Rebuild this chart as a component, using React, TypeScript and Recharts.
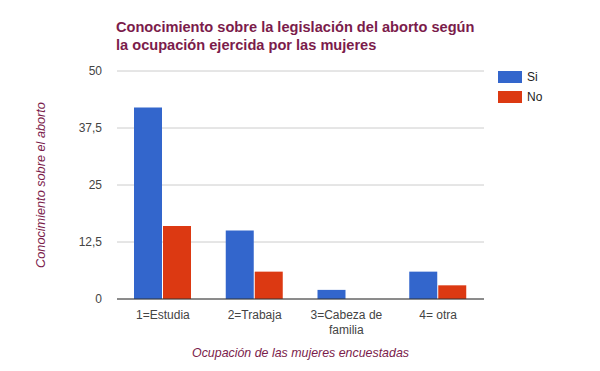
import React from 'react';
import { BarChart, Bar, XAxis, YAxis, CartesianGrid, Text } from 'recharts';

const categories = ['1=Estudia', '2=Trabaja', '3=Cabeza de familia', '4= otra'];
const siValues = [42, 15, 2, 6];
const noValues = [16, 6, 0, 3];
const yTicks = [0, 12.5, 25, 37.5, 50];
const seriesNames = ['Si', 'No'];
const colors = ['#3366cc', '#dc3912'];

const data = categories.map((c, i) => ({ cat: c, si: siValues[i], no: noValues[i] }));

const FONT = 'Arial, "Liberation Sans", sans-serif';
const MAROON = '#7b1c4b';

const XTick = (props: any) => {
  const { x, y, payload } = props;
  return (
    <Text x={x} y={y + 3} width={90} lineHeight={15} textAnchor="middle" verticalAnchor="start" fontSize={12} fill="#444" fontFamily={FONT}>
      {payload.value}
    </Text>
  );
};

export default function App() {
  return (
    <div style={{ position: 'absolute', left: 0, top: 0, width: 600, height: 371, background: '#fff', fontFamily: FONT }}>
      <BarChart
        width={600}
        height={371}
        data={data}
        margin={{ top: 71, right: 116, bottom: 42, left: 0 }}
        barGap={1}
        barSize={28}
      >
        <CartesianGrid vertical={false} stroke="#cccccc" />
        <XAxis
          dataKey="cat"
          height={30}
          tickLine={false}
          axisLine={{ stroke: '#333333' }}
          tick={<XTick />}
          interval={0}
        />
        <YAxis
          width={117}
          domain={[0, 50]}
          ticks={yTicks}
          tickLine={false}
          axisLine={false}
          tickMargin={9}
          tick={{ fontSize: 12, fill: '#444', fontFamily: FONT }}
          tickFormatter={(v: number) => String(v).replace('.', ',')}
        />
        <Bar dataKey="si" name={seriesNames[0]} fill={colors[0]} isAnimationActive={false} />
        <Bar dataKey="no" name={seriesNames[1]} fill={colors[1]} isAnimationActive={false} />
      </BarChart>
      <div style={{ position: 'absolute', left: 116, top: 18, fontSize: 14.6, fontWeight: 'bold', color: MAROON, lineHeight: '18px', whiteSpace: 'nowrap' }}>
        Conocimiento sobre la legislación del aborto según
        <br />
        la ocupación ejercida por las mujeres
      </div>
      <div style={{ position: 'absolute', left: 117, width: 367, top: 346, textAlign: 'center', fontSize: 12.4, fontStyle: 'italic', color: MAROON, whiteSpace: 'nowrap' }}>
        Ocupación de las mujeres encuestadas
      </div>
      <div style={{ position: 'absolute', left: 41, top: 185, width: 0, height: 0 }}>
        <div style={{ position: 'absolute', left: -150, top: -8, width: 300, textAlign: 'center', fontSize: 12.7, fontStyle: 'italic', color: MAROON, transform: 'rotate(-90deg)', lineHeight: '16px' }}>
          Conocimiento sobre el aborto
        </div>
      </div>
      {seriesNames.map((n, i) => (
        <div key={n} style={{ position: 'absolute', left: 498, top: 70 + i * 20, display: 'flex', alignItems: 'center', fontSize: 12, color: '#222' }}>
          <div style={{ width: 24, height: 12, background: colors[i], marginRight: 5 }} />
          <span>{n}</span>
        </div>
      ))}
    </div>
  );
}
